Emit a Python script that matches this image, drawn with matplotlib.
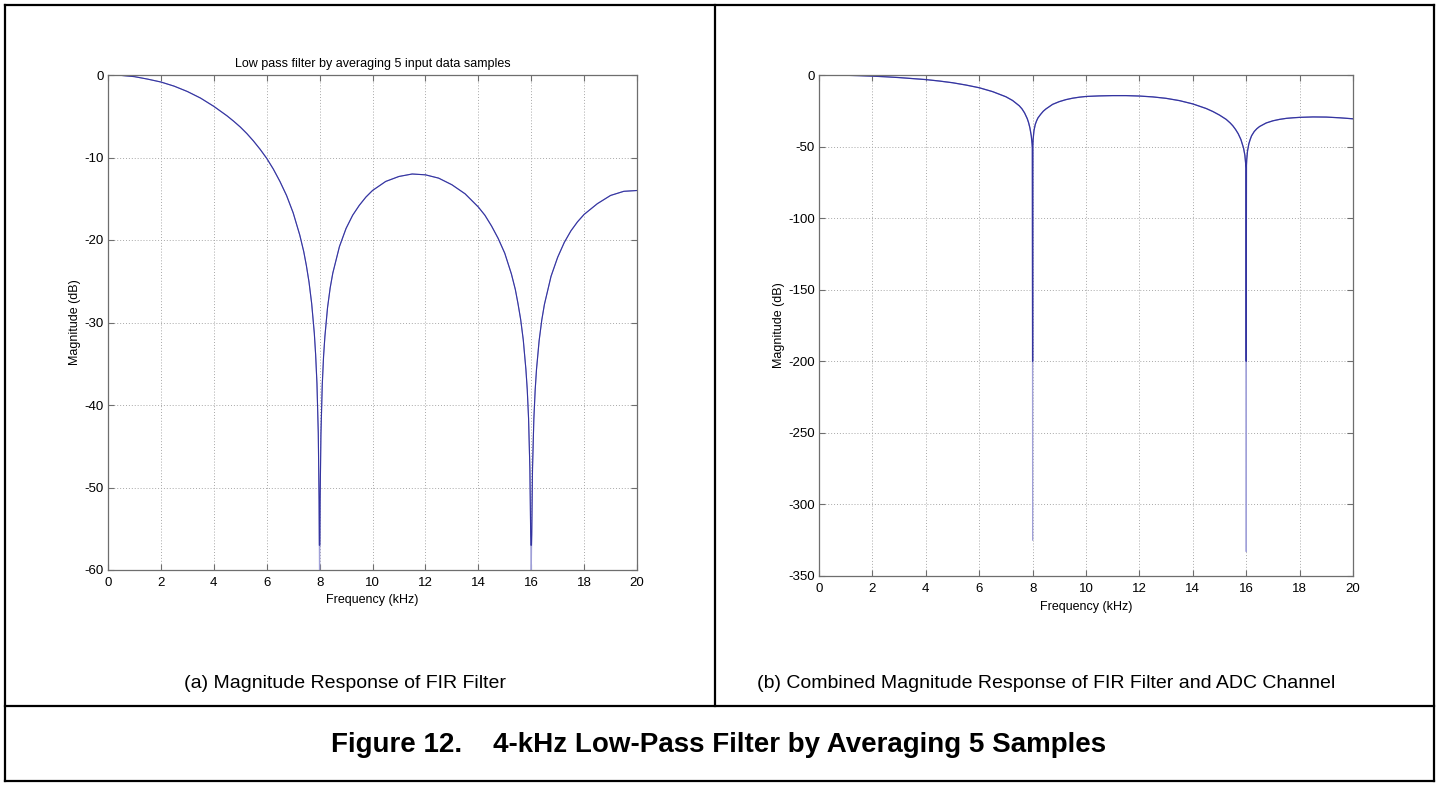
import numpy as np
import matplotlib
matplotlib.use("Agg")
import matplotlib.pyplot as plt
from matplotlib.lines import Line2D

plt.rcParams["font.family"] = ["Liberation Sans", "DejaVu Sans"]
plt.rcParams["axes.unicode_minus"] = False

# (a) FIR filter alone (kHz, dB)
freq_a = [0, 0.5, 1, 1.5, 2, 2.5, 3, 3.5, 4, 4.5, 4.75, 5, 5.25, 5.5, 5.75, 6, 6.25, 6.5,
          6.75, 7, 7.25, 7.4, 7.5, 7.6, 7.7, 7.8, 7.85, 7.9, 7.95, 7.98, 7.99, 8.0, 8.01,
          8.02, 8.05, 8.1, 8.15, 8.2, 8.3, 8.4, 8.5, 8.75, 9, 9.25, 9.5, 9.75, 10, 10.5,
          11, 11.5, 12, 12.5, 13, 13.5, 14, 14.25, 14.5, 14.75, 15, 15.25, 15.4, 15.5,
          15.6, 15.7, 15.8, 15.85, 15.9, 15.95, 15.98, 15.99, 16.0, 16.01, 16.02, 16.05,
          16.1, 16.15, 16.2, 16.3, 16.4, 16.5, 16.75, 17, 17.25, 17.5, 17.75, 18, 18.5,
          19, 19.5, 20]
mag_a = [0, -0.05, -0.2, -0.5, -0.85, -1.35, -2.0, -2.8, -3.8, -4.95, -5.6, -6.3, -7.1,
         -8.0, -9.0, -10.1, -11.4, -12.9, -14.6, -16.7, -19.4, -21.4, -23.1, -25.1, -27.7,
         -31.3, -33.9, -37.4, -43.4, -51.4, -57.5, -64, -57.5, -51.5, -43.6, -37.6,
         -34.1, -31.7, -28.2, -25.8, -24.0, -20.8, -18.6, -17.0, -15.8, -14.8, -14.0,
         -12.9, -12.3, -12.0, -12.1, -12.5, -13.3, -14.4, -16.0, -17.0, -18.3, -19.8,
         -21.6, -24.1, -26.0, -27.7, -29.6, -32.1, -35.7, -38.1, -41.6, -47.7, -55.6,
         -58.5, -64, -58.5, -55.7, -47.7, -41.7, -38.2, -35.7, -32.2, -29.7, -27.8,
         -24.4, -22.1, -20.3, -18.9, -17.8, -16.9, -15.6, -14.6, -14.1, -14.0]

# (b) FIR filter + ADC channel (kHz, dB)
freq_b = [0, 0.5, 1, 1.5, 2, 2.5, 3, 3.5, 4, 4.5, 5, 5.5, 6, 6.5, 7, 7.25, 7.5, 7.6, 7.7,
          7.8, 7.85, 7.9, 7.95, 7.98, 7.99, 8.0, 8.01, 8.02, 8.05, 8.1, 8.15, 8.2, 8.3,
          8.4, 8.5, 8.75, 9, 9.25, 9.5, 9.75, 10, 10.5, 11, 11.5, 12, 12.5, 13, 13.5, 14,
          14.5, 14.75, 15, 15.25, 15.4, 15.5, 15.6, 15.7, 15.8, 15.9, 15.95, 15.98, 15.99,
          16.0, 16.01, 16.02, 16.05, 16.1, 16.15, 16.2, 16.3, 16.4, 16.5, 16.75, 17,
          17.25, 17.5, 17.75, 18, 18.5, 19, 19.5, 20]
mag_b = [0, -0.05, -0.2, -0.45, -0.8, -1.25, -1.8, -2.5, -3.2, -4.2, -5.4, -7.0, -8.9,
         -11.6, -15.2, -17.8, -21.5, -23.6, -26.5, -30.5, -33.3, -37.0, -42.5, -48.0,
         -51.0, -325, -49.0, -45.0, -39.0, -34.5, -32.0, -30.0, -27.5, -25.3, -23.7,
         -20.5, -18.6, -17.2, -16.2, -15.5, -15.0, -14.6, -14.4, -14.4, -14.7, -15.3,
         -16.3, -17.9, -20.2, -23.4, -25.5, -28.0, -31.0, -33.5, -35.5, -38.0, -41.0,
         -45.0, -51.0, -56.0, -62.0, -65.0, -333, -63.0, -59.0, -53.0, -48.0, -45.0,
         -42.5, -39.5, -37.5, -36.0, -33.5, -32.0, -31.0, -30.3, -29.9, -29.6, -29.3,
         -29.4, -29.9, -30.6]

xticks = list(range(0, 21, 2))
yticks_a = [0, -10, -20, -30, -40, -50, -60]
yticks_b = [0, -50, -100, -150, -200, -250, -300, -350]

title_a = "Low pass filter by averaging 5 input data samples"
caption_a = "(a) Magnitude Response of FIR Filter"
caption_b = "(b) Combined Magnitude Response of FIR Filter and ADC Channel"
fig_title = "Figure 12.    4-kHz Low-Pass Filter by Averaging 5 Samples"

BLUE = "#3434a0"
LIGHT = "#a0a0d8"
GRAY = "#6e6e6e"

W, H = 1438, 786
fig = plt.figure(figsize=(W / 100, H / 100), dpi=100)


def box(x0, y0, x1, y1):
    # pixel box (top-left origin) -> figure fraction rect
    return [x0 / W, 1 - y1 / H, (x1 - x0) / W, (y1 - y0) / H]


def matlab_axes(ax, yticks, ylim):
    ax.set_xlim(0, 20)
    ax.set_ylim(*ylim)
    ax.set_xticks(xticks)
    ax.set_yticks(yticks)
    ax.grid(True, color="#a8a8a8", linestyle=(0, (1, 2)), linewidth=0.7)
    ax.tick_params(direction="in", length=4, width=0.8, color=GRAY, top=True, right=True,
                   labelsize=9.5)
    ax.tick_params(axis="x", pad=5)
    ax.tick_params(axis="y", pad=3)
    for s in ax.spines.values():
        s.set_color(GRAY)
        s.set_linewidth(0.9)
    ax.set_xlabel("Frequency (kHz)", fontsize=9, va="center")
    ax.set_ylabel("Magnitude (dB)", fontsize=9, va="center")


ax1 = fig.add_axes(box(108, 75, 637, 570))
matlab_axes(ax1, yticks_a, (-60, 0))
ax1.plot(freq_a, mag_a, color=LIGHT, lw=0.8)
ax1.plot(freq_a, np.maximum(mag_a, -57), color=BLUE, lw=0.8)
ax1.xaxis.set_label_coords(0.5, -0.061)
ax1.yaxis.set_label_coords(-0.062, 0.5)
ax1.set_title(title_a, fontsize=9, pad=6)

ax2 = fig.add_axes(box(819, 75, 1353, 576))
matlab_axes(ax2, yticks_b, (-350, 0))
ax2.plot(freq_b, mag_b, color=LIGHT, lw=0.8)
ax2.plot(freq_b, np.maximum(mag_b, -200), color=BLUE, lw=0.9)
ax2.xaxis.set_label_coords(0.5, -0.062)
ax2.yaxis.set_label_coords(-0.074, 0.5)

# table-like frame around the figure
frame = [((5, 5), (1434, 5)), ((5, 781), (1434, 781)), ((5, 5), (5, 781)),
         ((1434, 5), (1434, 781)), ((5, 706), (1434, 706)), ((715, 5), (715, 706))]
for (xa, ya), (xb, yb) in frame:
    fig.add_artist(Line2D([xa / W, xb / W], [1 - ya / H, 1 - yb / H],
                          transform=fig.transFigure, color="black", lw=1.6))

fig.text(345 / W, 1 - 688 / H, caption_a, ha="center", va="baseline", fontsize=14)
fig.text(1046 / W, 1 - 688 / H, caption_b, ha="center", va="baseline", fontsize=14)
fig.text(719 / W, 1 - 752 / H, fig_title, ha="center", va="baseline", fontsize=20,
         fontweight="bold")

fig.savefig("out.png", dpi=100)
